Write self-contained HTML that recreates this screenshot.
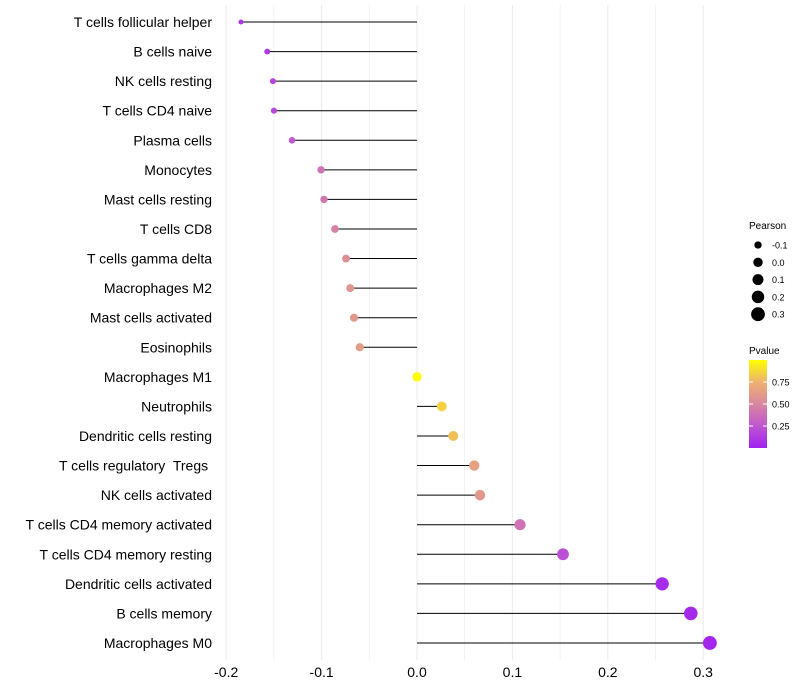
<!DOCTYPE html>
<html><head><meta charset="utf-8"><style>
body{margin:0;background:#fff;}
svg{display:block;font-family:"Liberation Sans",sans-serif;}
</style></head><body>
<svg id="chart" width="800" height="700">
<defs><linearGradient id="pg" x1="0" y1="1" x2="0" y2="0">
<stop offset="0" stop-color="#A020F0"/><stop offset="0.25" stop-color="#BF56D0"/><stop offset="0.5" stop-color="#D8879F"/><stop offset="0.75" stop-color="#EDB26F"/><stop offset="1" stop-color="#FFFF00"/>
</linearGradient></defs>
<g id="grid"></g><g id="marks"></g><g id="labels"></g>
<g>
<text x="749" y="229" font-size="10">Pearson</text>
<g id="sizeleg"></g></g>
<g>
<text x="749" y="354" font-size="10">Pvalue</text>
<rect x="749" y="360" width="18" height="88" fill="url(#pg)"/>
<g id="colleg"></g></g>
</svg>
<script>
const categories=["T cells follicular helper","B cells naive","NK cells resting","T cells CD4 naive","Plasma cells","Monocytes","Mast cells resting","T cells CD8","T cells gamma delta","Macrophages M2","Mast cells activated","Eosinophils","Macrophages M1","Neutrophils","Dendritic cells resting","T cells regulatory  Tregs ","NK cells activated","T cells CD4 memory activated","T cells CD4 memory resting","Dendritic cells activated","B cells memory","Macrophages M0"];
const pearson=[-0.1845,-0.157,-0.151,-0.150,-0.131,-0.1006,-0.0975,-0.086,-0.0744,-0.070,-0.066,-0.060,0.0,0.026,0.038,0.060,0.066,0.108,0.153,0.257,0.287,0.307];
const pvalue=[0.1,0.12,0.17,0.18,0.26,0.4,0.42,0.48,0.55,0.58,0.6,0.63,1.0,0.85,0.8,0.65,0.6,0.4,0.22,0.05,0.04,0.03];
const xTicks=[-0.2,-0.1,0.0,0.1,0.2,0.3];
const sizeLegend=[-0.1,0.0,0.1,0.2,0.3];
const colorTicks=[0.25,0.5,0.75];
const NS="http://www.w3.org/2000/svg";
const X=v=>417+v*954;
const Y=i=>22+i*29.57;
const R=v=>Math.sqrt(Math.max(2.2,22+85*v));
const stops=[[0,[160,32,240]],[0.25,[191,86,208]],[0.5,[216,135,159]],[0.75,[237,178,111]],[1,[255,255,0]]];
function col(p){for(let i=1;i<stops.length;i++){if(p<=stops[i][0]){const a=stops[i-1],b=stops[i],t=(p-a[0])/(b[0]-a[0]);return "rgb("+a[1].map((c,k)=>Math.round(c+(b[1][k]-c)*t)).join(",")+")";}}return "rgb(255,255,0)";}
function mk(tag,at,parent){const e=document.createElementNS(NS,tag);for(const k in at)e.setAttribute(k,at[k]);document.getElementById(parent).appendChild(e);return e;}
for(let v=-0.2;v<=0.3001;v+=0.05){
 const l=mk("line",{x1:X(v),x2:X(v),y1:5,y2:660,stroke:"#ebebeb","stroke-width":Math.abs(Math.round(v*20)%2)==0?1:0.6},"grid");
 
 
}
xTicks.forEach(t=>{
 const e=mk("text",{x:X(t),y:677,"font-size":14,"text-anchor":"middle",fill:"#000"},"labels");
 e.textContent=t.toFixed(1);
 
 
});
categories.forEach((c,i)=>{
 const t=mk("text",{x:212,y:Y(i)+5,"font-size":14,"text-anchor":"end",fill:"#000","xml:space":"preserve",style:"white-space:pre"},"labels");
 t.textContent=c;
 
 
 const l=mk("line",{x1:X(0),x2:X(pearson[i]),y1:Y(i),y2:Y(i),stroke:"#000","stroke-width":1},"marks");
 
 
 const p=mk("circle",{cx:X(pearson[i]),cy:Y(i),r:R(pearson[i]),fill:col(pvalue[i])},"marks");
 
 
});
sizeLegend.forEach((v,i)=>{
 const y=245+i*17.3;
 const c=mk("circle",{cx:758,cy:y,r:R(v),fill:"#000"},"sizeleg");
 
 
 const t=mk("text",{x:772,y:y+3.5,"font-size":9,fill:"#000"},"sizeleg");
 t.textContent=v.toFixed(1);
 
 
});
colorTicks.forEach(v=>{
 const y=448-v*88;
 const a=mk("line",{x1:749,x2:753,y1:y,y2:y,stroke:"#fff"},"colleg");
 
 
 const b=mk("line",{x1:763,x2:767,y1:y,y2:y,stroke:"#fff"},"colleg");
 
 
 const t=mk("text",{x:772,y:y+3.5,"font-size":9,fill:"#000"},"colleg");
 t.textContent=v.toFixed(2);
 
 
});
</script>
</body></html>
